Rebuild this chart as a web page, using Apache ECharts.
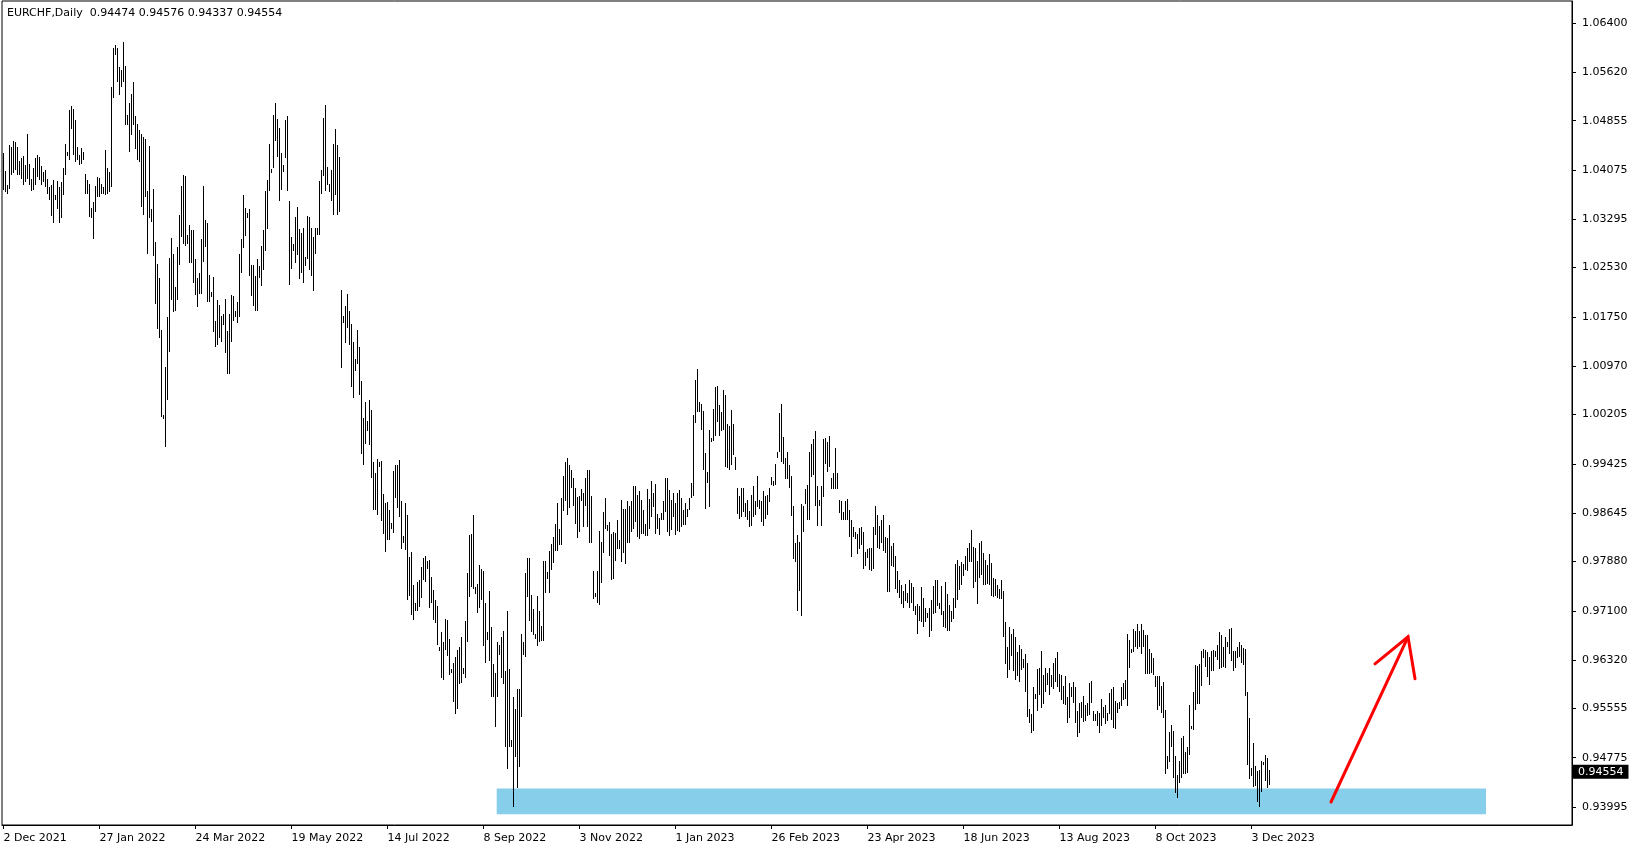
<!DOCTYPE html>
<html>
<head>
<meta charset="utf-8">
<script src="https://cdn.jsdelivr.net/npm/echarts@6.0.0/dist/echarts.min.js"></script>
<style>
html,body{margin:0;padding:0;background:#fff;}
#chart{width:1635px;height:850px;}
</style>
</head>
<body>
<div id="chart"></div>
<script>
// EURCHF daily bars (high/low only; bar index 0 = 2 Dec 2021)
const highs = [
1.0434,1.0406,1.0383,1.0447,1.0444,1.0453,1.0452,1.0444,1.0422,1.0427,
1.0430,1.0416,1.0464,1.0417,1.0394,1.0411,1.0426,1.0432,1.0428,1.0414,
1.0404,1.0407,1.0394,1.0381,1.0383,1.0391,1.0368,1.0390,1.0381,1.0389,
1.0411,1.0448,1.0436,1.0502,1.0509,1.0504,1.0486,1.0444,1.0432,1.0442,
1.0436,1.0401,1.0391,1.0386,1.0348,1.0357,1.0382,1.0397,1.0395,1.0386,
1.0381,1.0439,1.0411,1.0405,
1.0539,1.0600,1.0605,1.0600,1.0571,1.0566,1.0610,1.0572,1.0494,1.0513,
1.0527,1.0547,1.0493,1.0481,1.0471,1.0464,1.0460,1.0457,1.0375,1.0445,
1.0345,1.0377,1.0294,1.0259,1.0236,1.0154,1.0020,1.0096,1.0175,1.0268,
1.0300,1.0275,1.0222,1.0286,1.0336,1.0382,1.0399,1.0398,1.0304,1.0320,
1.0312,1.0312,1.0266,1.0236,1.0244,1.0298,1.0382,1.0328,1.0323,1.0241,
1.0214,1.0238,1.0168,1.0201,
1.0194,1.0176,1.0180,1.0203,1.0152,1.0180,1.0210,1.0208,1.0184,1.0198,
1.0274,1.0298,1.0368,1.0348,1.0339,1.0346,1.0257,1.0257,1.0240,1.0266,
1.0256,1.0288,1.0312,1.0374,1.0391,1.0448,1.0409,1.0495,1.0513,1.0488,
1.0474,1.0434,1.0416,1.0486,1.0493,1.0358,1.0302,1.0291,1.0333,1.0349,
1.0314,1.0308,1.0316,1.0270,1.0335,1.0333,1.0315,1.0302,1.0316,1.0316,
1.0390,1.0407,1.0489,1.0511,1.0412,1.0386,1.0407,1.0449,1.0473,1.0447,
1.0428,1.0217,1.0176,1.0192,
1.0212,1.0185,1.0163,1.0136,1.0108,1.0154,1.0128,1.0073,1.0015,1.0040,
1.0011,1.0043,1.0028,0.9945,0.9928,0.9950,0.9945,0.9947,0.9894,0.9880,
0.9882,0.9870,0.9849,0.9931,0.9941,0.9941,0.9948,0.9883,0.9829,0.9880,
0.9862,0.9795,0.9803,0.9750,0.9723,0.9755,0.9759,0.9780,0.9794,0.9797,
0.9788,0.9790,0.9763,0.9743,0.9727,0.9718,0.9652,0.9676,0.9660,0.9697,
0.9695,0.9665,
0.9618,0.9628,0.9637,0.9648,0.9653,0.9669,0.9619,0.9694,0.9769,0.9830,
0.9831,0.9862,0.9748,0.9753,0.9783,0.9776,0.9773,0.9723,0.9677,0.9742,
0.9685,0.9625,0.9612,0.9661,0.9656,0.9668,0.9678,0.9615,0.9710,0.9618,
0.9505,0.9573,0.9554,0.9586,0.9586,0.9673,0.9660,0.9769,0.9794,0.9793,
0.9735,0.9713,0.9674,0.9734,0.9710,0.9686,0.9789,
0.9789,0.9772,0.9805,0.9816,0.9826,0.9847,0.9881,0.9840,0.9889,0.9924,
0.9946,0.9951,0.9940,0.9933,0.9920,0.9904,0.9890,0.9891,0.9903,0.9897,
0.9920,0.9933,0.9933,0.9892,0.9773,0.9738,0.9773,0.9837,0.9819,0.9867,
0.9888,0.9846,0.9851,0.9831,0.9834,0.9833,0.9854,0.9822,0.9886,0.9871,
0.9871,0.9884,0.9875,0.9883,0.9907,0.9907,0.9893,0.9899,0.9886,0.9870,
0.9847,0.9902,0.9887,
0.9915,0.9896,0.9910,0.9863,0.9857,0.9864,0.9884,0.9920,0.9920,0.9901,
0.9885,0.9896,0.9880,0.9896,0.9901,0.9889,0.9870,0.9880,0.9871,0.9889,
0.9912,1.0019,1.0075,1.0093,1.0040,1.0037,1.0026,0.9959,0.9929,0.9996,
0.9984,1.0030,1.0064,1.0065,1.0036,1.0024,1.0059,1.0051,1.0005,1.0002,
1.0028,1.0005,0.9954,0.9904,0.9892,0.9905,0.9905,0.9880,0.9885,0.9868,
0.9893,0.9908,
0.9883,0.9923,0.9886,0.9884,0.9900,0.9892,0.9893,0.9904,0.9921,0.9916,
0.9942,0.9962,1.0023,1.0037,0.9985,0.9951,0.9962,0.9940,0.9924,0.9875,
0.9818,0.9830,0.9819,0.9879,0.9876,0.9902,0.9909,0.9962,0.9974,0.9982,
0.9994,0.9908,0.9886,0.9907,0.9982,0.9983,0.9977,0.9986,0.9920,0.9928,
0.9967,0.9928,0.9886,0.9883,0.9866,0.9884,0.9887,0.9870,0.9854,0.9842,
0.9834,0.9832,0.9841,
0.9842,0.9835,0.9803,0.9808,0.9809,0.9810,0.9842,0.9876,0.9861,0.9844,
0.9854,0.9862,0.9826,0.9825,0.9846,0.9813,0.9818,0.9796,0.9773,0.9758,
0.9750,0.9742,0.9752,0.9738,0.9759,0.9754,0.9747,0.9717,0.9721,0.9718,
0.9747,0.9730,0.9714,0.9706,0.9714,0.9727,0.9749,0.9758,0.9758,0.9722,
0.9749,0.9710,0.9756,0.9736,0.9719,0.9710,0.9730,0.9784,0.9791,0.9781,
0.9787,0.9784,
0.9797,0.9810,0.9818,0.9838,0.9811,0.9809,0.9788,0.9818,0.9820,0.9802,
0.9790,0.9783,0.9800,0.9785,0.9762,0.9760,0.9750,0.9744,0.9759,0.9742,
0.9692,0.9653,0.9684,0.9674,0.9681,0.9669,0.9644,0.9656,0.9649,0.9634,
0.9642,0.9627,0.9554,0.9547,0.9589,0.9579,0.9618,0.9620,0.9646,0.9609,
0.9620,0.9611,0.9619,0.9609,0.9628,0.9635,0.9644,0.9610,0.9609,0.9591,
0.9607,0.9573,0.9596,0.9589,0.9598,0.9589,0.9552,0.9564,0.9566,0.9575,
0.9561,0.9564,0.9596,0.9599,0.9552,0.9546,0.9552,0.9548,0.9570,0.9557,
0.9561,0.9549,0.9580,0.9586,0.9589,0.9568,0.9564,0.9566,0.9589,0.9596,
0.9601,0.9673,0.9663,0.9650,0.9681,0.9678,0.9689,0.9678,0.9689,0.9680,
0.9672,0.9672,0.9650,0.9643,0.9635,0.9606,0.9606,0.9606,0.9591,0.9598,
0.9553,0.9480,0.9518,
0.9529,0.9519,0.9480,0.9450,0.9472,0.9509,0.9512,0.9486,0.9495,0.9561,
0.9528,0.9581,0.9624,0.9623,0.9626,0.9646,0.9649,0.9648,0.9644,0.9637,
0.9647,0.9648,0.9647,0.9656,0.9677,0.9672,0.9653,0.9668,0.9661,0.9681,
0.9683,0.9647,0.9646,0.9653,0.9661,0.9656,0.9651,0.9649,0.9582,0.9541,
0.9461,0.9501,0.9465,0.9457,0.9458,0.9473,0.9471,0.9482,0.9477,0.94576
];
const lows = [
1.0376,1.0373,1.0370,1.0378,1.0399,1.0402,1.0407,1.0400,1.0399,1.0394,
1.0383,1.0389,1.0394,1.0383,1.0374,1.0376,1.0383,1.0397,1.0391,1.0383,
1.0389,1.0381,1.0370,1.0360,1.0335,1.0323,1.0360,1.0346,1.0324,1.0331,
1.0368,1.0399,1.0429,1.0423,1.0473,1.0431,1.0420,1.0423,1.0415,1.0417,
1.0423,1.0370,1.0370,1.0333,1.0332,1.0298,1.0341,1.0365,1.0365,1.0370,
1.0370,1.0368,1.0370,1.0373,
1.0381,1.0521,1.0589,1.0547,1.0526,1.0539,1.0547,1.0478,1.0478,1.0436,
1.0463,1.0478,1.0441,1.0423,1.0420,1.0349,1.0336,1.0365,1.0275,1.0331,
1.0325,1.0272,1.0196,1.0156,1.0141,1.0016,1.0014,0.9969,1.0043,1.0119,
1.0201,1.0183,1.0185,1.0201,1.0257,1.0302,1.0291,1.0288,1.0291,1.0260,
1.0260,1.0228,1.0209,1.0191,1.0212,1.0212,1.0262,1.0286,1.0199,1.0199,
1.0207,1.0151,1.0127,1.0131,
1.0142,1.0135,1.0162,1.0118,1.0085,1.0085,1.0135,1.0168,1.0175,1.0165,
1.0175,1.0245,1.0284,1.0303,1.0331,1.0240,1.0208,1.0193,1.0184,1.0185,
1.0237,1.0224,1.0250,1.0280,1.0314,1.0374,1.0402,1.0411,1.0453,1.0428,
1.0358,1.0376,1.0405,1.0427,1.0374,1.0225,1.0251,1.0280,1.0261,1.0273,
1.0235,1.0245,1.0229,1.0256,1.0266,1.0250,1.0240,1.0216,1.0274,1.0305,
1.0305,1.0369,1.0398,1.0374,1.0383,1.0373,1.0358,1.0337,1.0368,1.0336,
1.0341,1.0094,1.0166,1.0133,
1.0158,1.0130,1.0064,1.0047,1.0090,1.0101,1.0052,0.9958,0.9941,0.9974,
0.9994,0.9973,0.9920,0.9870,0.9870,0.9862,0.9937,0.9852,0.9832,0.9803,
0.9822,0.9822,0.9839,0.9833,0.9889,0.9873,0.9858,0.9808,0.9817,0.9806,
0.9727,0.9734,0.9704,0.9695,0.9710,0.9710,0.9716,0.9730,0.9759,0.9755,
0.9776,0.9714,0.9722,0.9695,0.9690,0.9656,0.9647,0.9603,0.9600,0.9648,
0.9639,0.9609,
0.9612,0.9566,0.9547,0.9554,0.9594,0.9595,0.9610,0.9603,0.9660,0.9732,
0.9748,0.9744,0.9736,0.9706,0.9714,0.9727,0.9655,0.9628,0.9663,0.9631,
0.9573,0.9574,0.9526,0.9573,0.9640,0.9604,0.9594,0.9494,0.9459,0.9494,
0.9494,0.9400,0.9478,0.9430,0.9463,0.9542,0.9640,0.9637,0.9732,0.9694,
0.9677,0.9672,0.9665,0.9655,0.9660,0.9662,0.9662,
0.9738,0.9761,0.9738,0.9775,0.9786,0.9804,0.9805,0.9814,0.9814,0.9868,
0.9884,0.9862,0.9872,0.9905,0.9875,0.9847,0.9825,0.9835,0.9883,0.9842,
0.9875,0.9842,0.9817,0.9817,0.9728,0.9731,0.9723,0.9719,0.9754,0.9802,
0.9840,0.9837,0.9796,0.9758,0.9760,0.9789,0.9807,0.9808,0.9787,0.9802,
0.9784,0.9817,0.9818,0.9835,0.9839,0.9850,0.9826,0.9823,0.9831,0.9831,
0.9828,0.9828,0.9840,
0.9859,0.9874,0.9832,0.9840,0.9830,0.9853,0.9853,0.9866,0.9835,0.9828,
0.9838,0.9858,0.9830,0.9836,0.9834,0.9843,0.9845,0.9846,0.9858,0.9870,
0.9889,0.9891,1.0007,1.0024,1.0024,0.9996,0.9932,0.9871,0.9912,0.9874,
0.9977,0.9978,0.9987,1.0008,0.9986,0.9995,0.9996,0.9938,0.9936,0.9932,
0.9941,0.9957,0.9932,0.9863,0.9855,0.9859,0.9867,0.9859,0.9853,0.9842,
0.9844,0.9858,
0.9861,0.9874,0.9871,0.9851,0.9844,0.9855,0.9862,0.9882,0.9909,0.9907,
0.9909,0.9951,0.9962,0.9946,0.9942,0.9919,0.9919,0.9904,0.9860,0.9792,
0.9787,0.9710,0.9742,0.9702,0.9834,0.9879,0.9853,0.9853,0.9921,0.9925,
0.9875,0.9844,0.9875,0.9844,0.9890,0.9942,0.9929,0.9937,0.9902,0.9902,
0.9903,0.9902,0.9865,0.9853,0.9854,0.9853,0.9854,0.9826,0.9795,0.9826,
0.9823,0.9800,0.9807,
0.9814,0.9776,0.9781,0.9793,0.9775,0.9773,0.9776,0.9830,0.9810,0.9807,
0.9818,0.9805,0.9802,0.9739,0.9740,0.9781,0.9780,0.9744,0.9738,0.9730,
0.9721,0.9714,0.9726,0.9723,0.9714,0.9722,0.9710,0.9703,0.9673,0.9694,
0.9693,0.9684,0.9693,0.9699,0.9668,0.9678,0.9705,0.9707,0.9718,0.9713,
0.9703,0.9685,0.9682,0.9678,0.9678,0.9692,0.9697,0.9715,0.9727,0.9743,
0.9751,0.9765,
0.9774,0.9773,0.9787,0.9787,0.9746,0.9755,0.9720,0.9762,0.9767,0.9751,
0.9751,0.9753,0.9751,0.9734,0.9732,0.9734,0.9730,0.9729,0.9729,0.9668,
0.9625,0.9603,0.9616,0.9639,0.9615,0.9600,0.9606,0.9598,0.9616,0.9620,
0.9582,0.9542,0.9532,0.9517,0.9519,0.9570,0.9551,0.9577,0.9556,0.9563,
0.9582,0.9593,0.9577,0.9589,0.9586,0.9597,0.9589,0.9582,0.9569,0.9562,
0.9561,0.9533,0.9541,0.9574,0.9564,0.9532,0.9511,0.9517,0.9541,0.9534,
0.9536,0.9544,0.9545,0.9564,0.9536,0.9536,0.9527,0.9516,0.9527,0.9540,
0.9531,0.9536,0.9546,0.9537,0.9524,0.9523,0.9548,0.9555,0.9560,0.9569,
0.9571,0.9559,0.9619,0.9643,0.9645,0.9652,0.9650,0.9652,0.9641,0.9652,
0.9610,0.9610,0.9610,0.9611,0.9608,0.9589,0.9553,0.9559,0.9549,0.9540,
0.9451,0.9460,0.9470,
0.9494,0.9445,0.9421,0.9413,0.9438,0.9446,0.9451,0.9451,0.9454,0.9482,
0.9523,0.9521,0.9553,0.9563,0.9562,0.9591,0.9635,0.9621,0.9605,0.9593,
0.9614,0.9614,0.9637,0.9632,0.9618,0.9619,0.9621,0.9619,0.9653,0.9642,
0.9631,0.9614,0.9619,0.9635,0.9637,0.9627,0.9624,0.9575,0.9466,0.9443,
0.9449,0.9431,0.9433,0.9408,0.9400,0.9424,0.9466,0.9440,0.9429,0.94337
];

// Axis labels
const dateLabels = ['2 Dec 2021','27 Jan 2022','24 Mar 2022','19 May 2022','14 Jul 2022','8 Sep 2022','3 Nov 2022','1 Jan 2023','26 Feb 2023','23 Apr 2023','18 Jun 2023','13 Aug 2023','8 Oct 2023','3 Dec 2023'];
const dateLabelBars = [0,48,96,144,192,240,288,336,384,432,480,528,576,624];
const priceTicks = [1.06400,1.05620,1.04855,1.04075,1.03295,1.02530,1.01750,1.00970,1.00205,0.99425,0.98645,0.97880,0.97100,0.96320,0.95555,0.94775,0.93995];

// Last bar (header) values: open, high, low, close
const lastBarOHLC = [0.94474, 0.94576, 0.94337, 0.94554];
const symbolName = 'EURCHF,Daily';

// Annotations (bar index / price)
const zoneBars = [246.6, 741.25];
const zonePrices = [0.94288, 0.93880];
const arrowShaft = [[663.75, 0.94074], [702.25, 0.96688]];
const arrowHead = [[685.75, 0.96260], [702.25, 0.96688], [705.75, 0.96023]];

const FONT = 'DejaVu Sans';
const Y_MIN = 0.9371, Y_MAX = 1.06749;
const barData = highs.map((h, i) => [i, h, lows[i]]);

const chart = echarts.init(document.getElementById('chart'), null, {renderer: 'canvas'});
const option = {
  animation: false,
  backgroundColor: '#ffffff',
  textStyle: {fontFamily: FONT},
  title: {
    text: symbolName + '  ' + lastBarOHLC.map(v => v.toFixed(5)).join(' '),
    left: 7, top: 8, padding: 0,
    textStyle: {fontSize: 11, fontWeight: 'normal', color: '#000', fontFamily: FONT}
  },
  grid: {left: 2, right: 63, top: 1, bottom: 25, show: true, borderColor: '#000', borderWidth: 1, backgroundColor: '#fff'},
  xAxis: {
    type: 'value', min: -0.75, max: 784.25,
    splitLine: {show: false},
    axisLine: {show: true, onZero: false, lineStyle: {color: '#000', width: 1}},
    axisTick: {show: true, customValues: dateLabelBars, length: 4, lineStyle: {color: '#000'}},
    axisLabel: {
      customValues: dateLabelBars,
      formatter: function (v) { const k = dateLabelBars.indexOf(Math.round(v)); return k >= 0 ? dateLabels[k] : ''; },
      align: 'left', margin: 8, fontSize: 11, color: '#000', fontFamily: FONT
    }
  },
  yAxis: [
    {
      type: 'value', position: 'right', min: Y_MIN, max: Y_MAX,
      splitLine: {show: false},
      axisLine: {show: true, onZero: false, lineStyle: {color: '#000', width: 1}},
      axisTick: {show: true, customValues: priceTicks, length: 4, lineStyle: {color: '#000'}},
      axisLabel: {
        customValues: priceTicks,
        formatter: function (v) { return v.toFixed(5); },
        margin: 10, fontSize: 11, color: '#000', fontFamily: FONT
      }
    },
    {
      type: 'value', position: 'right', min: Y_MIN, max: Y_MAX, offset: 0,
      splitLine: {show: false},
      axisLine: {show: false},
      axisTick: {show: false},
      axisLabel: {
        customValues: [lastBarOHLC[3]],
        formatter: function (v) { return v.toFixed(5); },
        margin: 1, fontSize: 11, color: '#fff', fontFamily: FONT,
        backgroundColor: '#000', padding: [2, 5, 1, 5]
      }
    }
  ],
  series: [
    {
      type: 'line', z: 1, data: [], silent: true,
      markArea: {
        silent: true,
        itemStyle: {color: '#87CEEB', opacity: 1, borderWidth: 0},
        data: [[{coord: [zoneBars[0], zonePrices[0]]}, {coord: [zoneBars[1], zonePrices[1]]}]]
      }
    },
    {
      type: 'custom', z: 5, silent: true,
      encode: {x: 0, y: [1, 2]},
      data: barData,
      renderItem: function (params, api) {
        const x = api.value(0);
        const top = api.coord([x, api.value(1)]);
        const bot = api.coord([x, api.value(2)]);
        const px = Math.floor(top[0]);
        const y0 = Math.round(top[1]);
        const y1 = Math.round(bot[1]);
        return {type: 'rect', shape: {x: px, y: y0, width: 1, height: Math.max(1, y1 - y0)}, style: {fill: '#000'}};
      }
    },
    {
      type: 'line', z: 6, silent: true, symbol: 'none',
      data: arrowShaft,
      lineStyle: {color: '#ff0000', width: 3, cap: 'round'}
    },
    {
      type: 'line', z: 6, silent: true, symbol: 'none',
      data: arrowHead,
      lineStyle: {color: '#ff0000', width: 3, cap: 'round', join: 'miter'}
    }
  ]
};
chart.setOption(option);
</script>
</body>
</html>
